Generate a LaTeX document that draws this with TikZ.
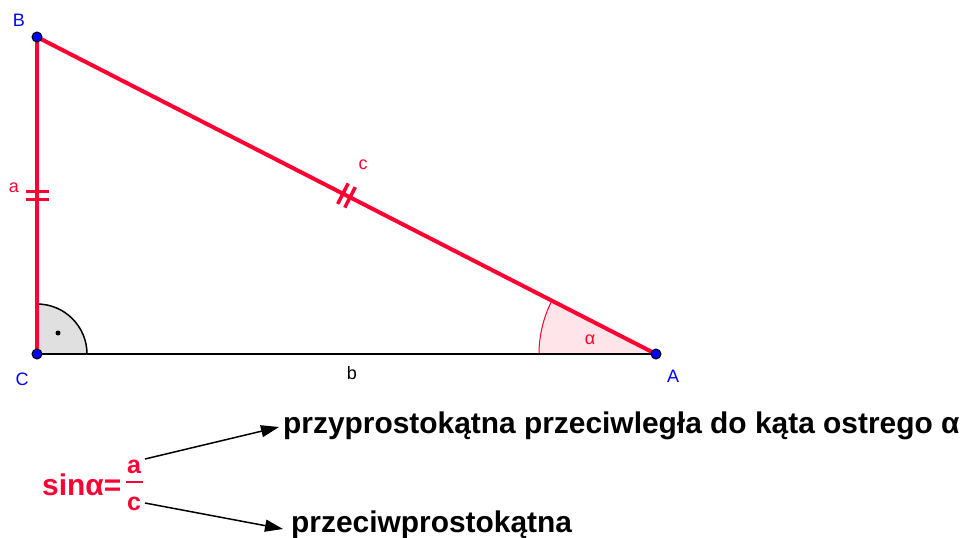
\documentclass[tikz,border=0pt]{standalone}
\usepackage{fontspec}
\setmainfont{Liberation Sans}
\usetikzlibrary{arrows.meta,calc}
\definecolor{ggred}{RGB}{255,0,51}
\definecolor{ggblue}{RGB}{0,0,255}
\definecolor{ggpink}{RGB}{255,228,233}
\definecolor{gggray}{RGB}{224,224,224}
\tikzset{
  side/.style={draw=ggred,line width=4pt},
  tick/.style={draw=ggred,line width=3.5pt},
  pt/.style={circle,fill=ggblue,draw=black,line width=1pt,inner sep=0pt,minimum size=10pt},
  lbl/.style={font=\fontsize{18}{20}\selectfont,inner sep=0pt},
  big/.style={font=\fontsize{29.9}{32}\selectfont\bfseries,inner sep=0pt},
  frac/.style={font=\fontsize{25}{28}\selectfont\bfseries,inner sep=0pt,text=ggred},
  arr/.style={draw=black,line width=1.5pt,-{Triangle[length=18pt,width=12pt]}}
}
\begin{document}
\begin{tikzpicture}[x=1pt,y=-1pt]
\useasboundingbox (0,0) rectangle (964,538);
\coordinate (B) at (37,37);
\coordinate (C) at (37,354);
\coordinate (A) at (656,354);
% angle at A
\fill[ggpink] (A) -- ++(180:117) arc[start angle=180,end angle=207.12,radius=117] -- cycle;
\draw[ggred,line width=1pt] ($(A)+(180:117)$) arc[start angle=180,end angle=207.12,radius=117];
% right angle at C
\filldraw[fill=gggray,draw=black,line width=1.5pt] (C) -- ++(50,0) arc[start angle=0,end angle=-90,radius=50] -- cycle;
\fill[black] (58,333) circle[radius=2.5];
% side b
\draw[black,line width=2pt] (C) -- (A);
% red sides
\draw[side] (C) -- (B);
\draw[side] (B) -- (A);
% ticks on a
\draw[tick] (26,191.5) -- (49,191.5);
\draw[tick] (26,199.5) -- (49,199.5);
% ticks on c
\coordinate (M) at ($(A)!0.5!(B)$);
\foreach \s in {-4,4}{
  \draw[tick] ($(M)+(\s*0.890,\s*0.456)+(-0.456*11.5,0.890*11.5)$) -- ($(M)+(\s*0.890,\s*0.456)+(0.456*11.5,-0.890*11.5)$);
}
% points
\node[pt] (pB) at (B) {};
\node[pt] (pC) at (C) {};
\node[pt] (pA) at (A) {};
% labels
\node[lbl,text=ggblue] (lB) at (19,20) {B};
\node[lbl,text=ggblue] (lC) at (22,379) {C};
\node[lbl,text=ggblue] (lA) at (673,376) {A};
\node[lbl,text=black] (lb) at (352,373) {b};
\node[lbl,text=ggred] (lc) at (363,165) {c};
\node[lbl,text=ggred] (la) at (14,188) {a};
\node[lbl,text=ggred] (lal) at (590,340) {α};
% formula
\node[big,text=ggred,anchor=base west] (sin) at (42,495) {sinα=};
\node[frac,anchor=base] (fa) at (134,473) {a};
\node[frac,anchor=base] (fc) at (134,510) {c};
\draw[ggred,line width=2.5pt] (126,482) -- (143,482);
% texts
\node[big,anchor=base west] (t1) at (283,433) {przyprostokątna przeciwległa do kąta ostrego α};
\node[big,anchor=base west] (t2) at (291,532) {przeciwprostokątna};
\coordinate (s1) at (145,459);
\coordinate (e1) at (279,427);
\coordinate (s2) at (145,503);
\coordinate (e2) at (283,529);
\draw[arr] (s1) -- (e1);
\draw[arr] (s2) -- (e2);
\end{tikzpicture}
\end{document}
